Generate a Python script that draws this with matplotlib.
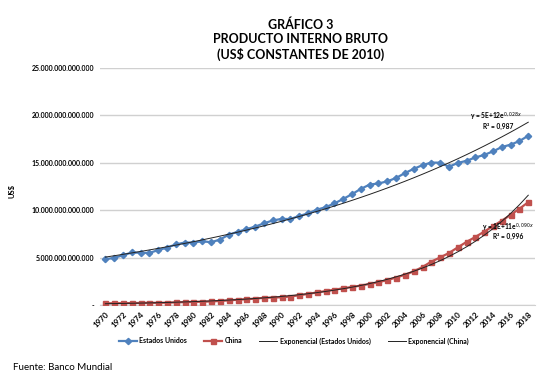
import matplotlib.pyplot as plt
import numpy as np
from matplotlib.ticker import FuncFormatter

plt.rcParams["font.family"] = ["Lato", "DejaVu Sans"]

YEARS = list(range(1970, 2019))

# PIB en billones de US$ constantes de 2010
USA = [4.84, 4.99, 5.26, 5.55, 5.52, 5.51, 5.80, 6.07, 6.40, 6.60,
       6.59, 6.75, 6.62, 6.92, 7.42, 7.73, 8.00, 8.28, 8.62, 8.93,
       9.09, 9.08, 9.40, 9.67, 10.06, 10.33, 10.72, 11.20, 11.70, 12.26,
       12.71, 12.83, 13.05, 13.41, 13.92, 14.37, 14.76, 15.03, 15.02, 14.59,
       14.99, 15.22, 15.57, 15.84, 16.21, 16.67, 16.92, 17.30, 17.86]
CHINA = [0.19, 0.20, 0.21, 0.22, 0.23, 0.25, 0.24, 0.26, 0.29, 0.32,
         0.34, 0.36, 0.39, 0.44, 0.50, 0.57, 0.62, 0.69, 0.77, 0.80,
         0.83, 0.91, 1.04, 1.18, 1.34, 1.48, 1.63, 1.78, 1.92, 2.06,
         2.24, 2.42, 2.64, 2.91, 3.20, 3.56, 4.02, 4.59, 5.03, 5.50,
         6.09, 6.67, 7.19, 7.75, 8.33, 8.91, 9.51, 10.17, 10.85]

US_EQ = "y = 5E+12e$^{0,028x}$"
US_R2 = "R² = 0,987"
CN_EQ = "y = 1E+11e$^{0,090x}$"
CN_R2 = "R² = 0,996"

BLUE = "#4F81BD"
RED = "#C0504D"


def exp_trend(values):
    """Tendencia exponencial (como Excel): ajuste lineal de ln(y) sobre x=1..n."""
    x = np.arange(1, len(values) + 1)
    b, a = np.polyfit(x, np.log(values), 1)
    return np.exp(a + b * x)


def main():
    years = np.array(YEARS)
    usa = np.array(USA) * 1e12
    china = np.array(CHINA) * 1e12

    fig = plt.figure(figsize=(5.44, 3.8), dpi=100)
    ax = fig.add_axes([0.184, 0.197, 0.80, 0.624])

    l1, = ax.plot(years, usa, color=BLUE, lw=1.6, marker="D", ms=3.2,
                  label="Estados Unidos", zorder=3)
    l2, = ax.plot(years, china, color=RED, lw=1.6, marker="s", ms=3.6,
                  label="China", zorder=3)
    l3, = ax.plot(years, exp_trend(usa), color="#222222", lw=0.7,
                  label="Exponencial (Estados Unidos)", zorder=4)
    l4, = ax.plot(years, exp_trend(china), color="#222222", lw=0.7,
                  label="Exponencial (China)", zorder=4)

    ax.set_ylim(0, 25e12)
    ax.set_xlim(1969.4, 2018.8)
    ax.set_yticks(np.arange(0, 25.1e12, 5e12))
    ax.yaxis.set_major_formatter(FuncFormatter(
        lambda v, p: "-" if v == 0 else f"{v:,.0f}".replace(",", ".")))
    ax.set_xticks(years[::2])
    ax.set_xticklabels([str(y) for y in YEARS[::2]], rotation=45, ha="right",
                       rotation_mode="anchor", fontsize=5.8, fontweight="bold")
    for lab in ax.get_yticklabels():
        lab.set_fontsize(5)
        lab.set_fontweight("bold")
    ax.tick_params(length=0, pad=4)
    ax.grid(axis="y", color="#D0D0D0", lw=1)
    ax.set_axisbelow(True)
    for s in ["top", "right", "left"]:
        ax.spines[s].set_visible(False)
    ax.spines["bottom"].set_color("#D0D0D0")
    ax.set_ylabel("US$", fontsize=5.5, fontweight="bold")
    ax.yaxis.set_label_coords(-0.195, 0.48)

    fig.text(0.552, 0.952, "GRÁFICO 3\nPRODUCTO INTERNO BRUTO\n(US$ CONSTANTES DE 2010)",
             ha="center", va="top", fontsize=9, fontweight="bold", linespacing=1.25)

    eq_style = dict(transform=ax.transAxes, ha="center", va="center",
                    fontsize=4.8, fontweight="bold")
    ax.text(0.910, 0.792, US_EQ, **eq_style)
    ax.text(0.915, 0.752, US_R2, **eq_style)
    ax.text(0.938, 0.327, CN_EQ, **eq_style)
    ax.text(0.938, 0.289, CN_R2, **eq_style)

    fig.legend(handles=[l1, l2, l3, l4], loc="center",
               bbox_to_anchor=(0.54, 1 - 341 / 380), ncol=4, frameon=False,
               prop={"weight": "bold", "size": 5},
               handlelength=2.6, columnspacing=2.5, handletextpad=0.3)

    fig.text(13 / 544, 1 - 367 / 380, "Fuente: Banco Mundial", ha="left",
             va="center", fontsize=7)

    fig.savefig("out.png", dpi=100)


if __name__ == "__main__":
    main()
